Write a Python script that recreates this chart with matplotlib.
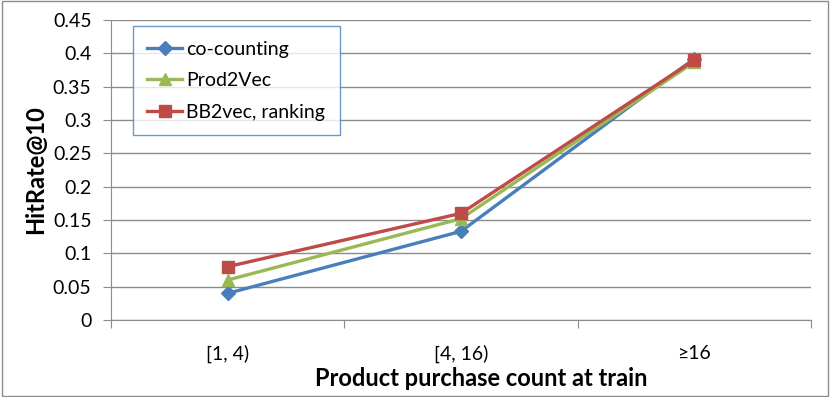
import matplotlib
matplotlib.use('Agg')
import matplotlib.pyplot as plt
from matplotlib.patches import Rectangle

plt.rcParams['font.family'] = ['Lato', 'DejaVu Sans']

categories = ['[1, 4)', '[4, 16)', '\u226516']
co_counting = [0.040, 0.133, 0.392]
prod2vec = [0.060, 0.152, 0.387]
bb2vec = [0.080, 0.160, 0.390]

fig = plt.figure(figsize=(8.3, 3.97), dpi=100)
ax = fig.add_axes([111 / 830, 1 - 320 / 397, 700 / 830, 300 / 397])

x = list(range(len(categories)))
ax.plot(x, co_counting, color='#4a7ebb', marker='D', markersize=7, lw=2.4, label='co-counting')
ax.plot(x, prod2vec, color='#98b954', marker='^', markersize=9, lw=2.4, label='Prod2Vec')
ax.plot(x, bb2vec, color='#be4b48', marker='s', markersize=8, lw=2.4, label='BB2vec, ranking')

ax.set_xlim(-0.5, len(categories) - 0.5)
ax.set_ylim(0, 0.45)
yt = [i * 0.05 for i in range(10)]
ax.set_yticks(yt)
ax.set_yticklabels(['0' if v == 0 else ('%.2f' % v).rstrip('0') for v in yt], fontsize=14)
ax.yaxis.grid(True, color='#8c8c8c', lw=1)
ax.set_axisbelow(True)

ax.set_xticks([i - 0.5 for i in range(len(categories) + 1)])
ax.set_xticklabels([])
ax.set_xticks(x, minor=True)
ax.set_xticklabels(categories, minor=True, fontsize=14)
ax.tick_params(axis='x', which='minor', length=0, pad=18)
ax.tick_params(axis='x', which='major', length=6, color='#8c8c8c')
ax.tick_params(axis='y', length=6, color='#8c8c8c', pad=8)

for s in ['top', 'right']:
    ax.spines[s].set_visible(False)
for s in ['left', 'bottom']:
    ax.spines[s].set_color('#8c8c8c')

ax.set_xlabel('Product purchase count at train', fontsize=17, fontweight='bold', labelpad=0)
ax.xaxis.set_label_coords(0.529, -0.155)
ax.set_ylabel('HitRate@10', fontsize=17, fontweight='bold', labelpad=4)

leg = ax.legend(loc='upper left', bbox_to_anchor=(0.031, 0.98), borderaxespad=0, fontsize=14,
                frameon=True, fancybox=False, handlelength=1.8, handletextpad=0.2,
                labelspacing=0.75, borderpad=0.75)
leg.get_frame().set_edgecolor('#4a7ebb')
leg.get_frame().set_linewidth(1)

fig.patches.append(Rectangle((0.002, 0.003), 0.996, 0.994, transform=fig.transFigure,
                             fill=False, edgecolor='#8c8c8c', lw=1))

fig.savefig('out.png', dpi=100)
